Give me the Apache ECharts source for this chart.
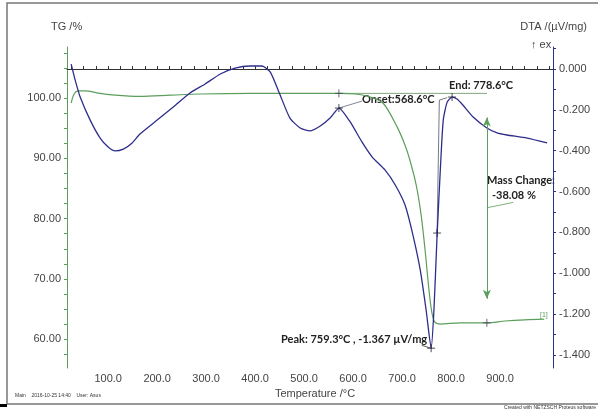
<!DOCTYPE html>
<html>
<head>
<meta charset="utf-8">
<script src="https://cdn.jsdelivr.net/npm/echarts@6/dist/echarts.min.js"></script>
<style>html,body{margin:0;padding:0;background:#fff}#c{width:598px;height:410px}</style>
</head>
<body>
<div id="c"></div>
<script>
// ---- data ----
const tgTemperature = [24.5, 30.6, 38.8, 53, 83.7, 114, 165, 227, 288, 390, 492, 573, 604, 635, 661, 690, 706, 716, 729, 739, 747, 755, 761, 767, 778, 818, 873, 910, 951, 990];
const tgValues      = [99.2, 100.7, 101.2, 101.2, 100.8, 100.5, 100.3, 100.5, 100.7, 100.8, 100.8, 100.8, 100.7, 100.2, 99.2, 95.2, 92.2, 89.7, 85.5, 80.5, 74.7, 68.0, 64.3, 62.8, 62.5, 62.7, 62.7, 63.0, 63.2, 63.3];

const dtaTemperature = [24.5, 32.7, 42.9, 63.3, 83.7, 100, 114, 131, 149, 165, 200, 233, 267, 298, 329, 359, 390, 414, 431, 451, 471, 492, 512, 533, 553, 571, 594, 618, 639, 665, 686, 706, 722, 737, 749, 759.3, 765, 771, 778, 784, 792, 802, 812, 824, 845, 873, 894, 914, 955, 996];
const dtaValues      = [0.024, -0.054, -0.137, -0.25, -0.338, -0.382, -0.401, -0.392, -0.362, -0.318, -0.25, -0.186, -0.117, -0.073, -0.024, 0.005, 0.015, 0.015, -0.015, -0.127, -0.24, -0.289, -0.303, -0.279, -0.24, -0.191, -0.259, -0.357, -0.431, -0.494, -0.568, -0.666, -0.812, -0.984, -1.18, -1.367, -1.18, -0.837, -0.494, -0.25, -0.162, -0.137, -0.147, -0.176, -0.235, -0.289, -0.313, -0.323, -0.338, -0.362];

const xTickLabels   = [100, 200, 300, 400, 500, 600, 700, 800, 900];
const tgTickLabels  = [60, 70, 80, 90, 100];
const dtaTickLabels = [0, -0.2, -0.4, -0.6, -0.8, -1.0, -1.2, -1.4];

// evaluation points
const onsetT = 568.6, endT = 778.6, peakT = 759.3, peakV = -1.367;
const massTop = 100.8, massBottom = 62.7, massChangeT = 873;

// annotation segments [T, value]
const tgBaseline   = [[571, 100.8], [873, 100.8]];
const onsetLeader  = [[571, -0.191], [618, -0.157]];
const endTangent   = [[771.4, -0.803], [776, -0.152], [792, -0.14]];
const peakLeader   = [[740, -1.353], [759.3, -1.367]];
const massLeader   = [[873, 81.8], [927, 82.7]];

const xTicks = []; for (let t = 25; t <= 1000; t += 25) xTicks.push(t);
const tgTicks = []; for (let v = 57.5; v <= 107.5; v += 2.5) tgTicks.push(v);
const dtaTicks = []; for (let i = 1; i >= -14; i--) dtaTicks.push(i / 10);

const zip = (a, b) => a.map((t, i) => [t, b[i]]);

const GREEN = '#5c9e5c';
const BLUE = '#2e2e8a';
const LABEL = '#444';

const chart = echarts.init(document.getElementById('c'), null, {renderer: 'canvas'});
chart.setOption({
  animation: false,
  backgroundColor: '#fff',
  grid: {left: 67, right: 45, top: 47, bottom: 42, containLabel: false},
  xAxis: {
    type: 'value', min: 16, max: 1008,
    axisLine: {lineStyle: {color: '#333', width: 1}},
    axisTick: {show: true, inside: true, length: 3, customValues: xTicks, lineStyle: {color: '#333'}},
    axisLabel: {customValues: xTickLabels, formatter: v => v.toFixed(1), color: LABEL, fontFamily: 'Liberation Sans', fontSize: 11, margin: 5},
    splitLine: {show: false},
    name: 'Temperature /°C', nameLocation: 'middle', nameGap: 15,
    nameTextStyle: {color: LABEL, fontFamily: 'Liberation Sans', fontSize: 11, padding: [0, 0, 0, 10]}
  },
  yAxis: [
    {
      type: 'value', min: 55.2, max: 108.5, position: 'left',
      axisLine: {show: true, lineStyle: {color: GREEN, width: 1}},
      axisTick: {show: true, length: 3, customValues: tgTicks, lineStyle: {color: GREEN}},
      axisLabel: {customValues: tgTickLabels, formatter: v => v.toFixed(2), color: LABEL, fontFamily: 'Liberation Sans', fontSize: 11, margin: 6},
      splitLine: {show: false}
    },
    {
      type: 'value', min: -1.464, max: 0.108, position: 'right',
      axisLine: {show: true, lineStyle: {color: BLUE, width: 1}},
      axisTick: {show: true, length: 3, customValues: dtaTicks, lineStyle: {color: BLUE}},
      axisLabel: {customValues: dtaTickLabels, formatter: v => v.toFixed(3), color: LABEL, fontFamily: 'Liberation Sans', fontSize: 11, margin: 6},
      splitLine: {show: false}
    }
  ],
  series: [
    {
      name: 'TG', type: 'line', yAxisIndex: 0, data: zip(tgTemperature, tgValues),
      showSymbol: false, smooth: 0.3, lineStyle: {color: GREEN, width: 1.2}, z: 3,
      markLine: {
        silent: true, symbol: ['arrow', 'arrow'], symbolSize: [6, 9],
        lineStyle: {color: GREEN, width: 1, type: 'solid'}, label: {show: false},
        data: [[{coord: [massChangeT, 96.8]}, {coord: [massChangeT, 66.7]}]]
      }
    },
    {
      name: 'DTA', type: 'line', yAxisIndex: 1, data: zip(dtaTemperature, dtaValues),
      showSymbol: false, smooth: 0.2, lineStyle: {color: BLUE, width: 1.3}, z: 4
    },
    {type: 'line', yAxisIndex: 0, data: tgBaseline, showSymbol: false, lineStyle: {color: '#7fa67f', width: 1}, z: 2},
    {type: 'line', yAxisIndex: 0, data: massLeader, showSymbol: false, lineStyle: {color: GREEN, width: 0.8}, z: 2},
    {type: 'line', yAxisIndex: 1, data: onsetLeader, showSymbol: false, lineStyle: {color: '#667', width: 0.8}, z: 2},
    {type: 'line', yAxisIndex: 1, data: endTangent, showSymbol: false, lineStyle: {color: '#556', width: 0.8}, z: 2},
    {type: 'line', yAxisIndex: 1, data: peakLeader, showSymbol: false, lineStyle: {color: '#333', width: 0.8}, z: 2},
    {
      type: 'scatter', yAxisIndex: 0, symbol: 'path://M0,5L10,5M5,0L5,10', symbolSize: 8,
      itemStyle: {color: 'none', borderColor: '#445', borderWidth: 1},
      data: [[571, massTop], [massChangeT, massBottom]], z: 5
    },
    {
      type: 'scatter', yAxisIndex: 1, symbol: 'path://M0,5L10,5M5,0L5,10', symbolSize: 8,
      itemStyle: {color: 'none', borderColor: '#223', borderWidth: 1},
      data: [[571, -0.191], [771.4, -0.803], [peakT, peakV], [802, -0.137]], z: 5
    }
  ],
  graphic: [
    {type: 'rect', shape: {x: 7, y: 3, width: 600, height: 401}, style: {fill: 'none', stroke: '#777', lineWidth: 1.5}, silent: true},
    {type: 'rect', shape: {x: 0, y: 404, width: 7, height: 3}, style: {fill: '#000'}, silent: true},
    {type: 'text', left: 51, top: 21, style: {text: 'TG /%', fill: LABEL, font: '11px "Liberation Sans"'}},
    {type: 'text', right: 11, top: 21, style: {text: 'DTA /(µV/mg)', fill: LABEL, font: '11px "Liberation Sans"'}},
    {type: 'text', left: 531, top: 39, style: {text: '↑ ex', fill: LABEL, font: '11px "Liberation Sans"'}},
    {type: 'text', left: 362, top: 94, style: {text: 'Onset:568.6°C', fill: '#222', font: 'bold 11px Lato'}},
    {type: 'text', left: 449, top: 80, style: {text: 'End: 778.6°C', fill: '#222', font: 'bold 11px Lato'}},
    {type: 'text', left: 281, top: 334, style: {text: 'Peak: 759.3°C , -1.367 µV/mg', fill: '#222', font: 'bold 11px Lato'}},
    {type: 'text', left: 487, top: 175, style: {text: 'Mass Change:', fill: '#222', font: 'bold 11px Lato'}},
    {type: 'text', left: 492, top: 190, style: {text: '-38.08 %', fill: '#222', font: 'bold 11px Lato'}},
    {type: 'text', left: 540, top: 312, style: {text: '[1]', fill: GREEN, font: '7px "Liberation Sans"'}},
    {type: 'text', left: 15, top: 393, style: {text: 'Main    2016-10-25 14:40    User: Asus', fill: '#333', font: '5px "Liberation Sans"'}},
    {type: 'text', right: 2, top: 405, style: {text: 'Created with NETZSCH Proteus software', fill: '#333', font: '5px "Liberation Sans"'}}
  ]
});
</script>
</body>
</html>
